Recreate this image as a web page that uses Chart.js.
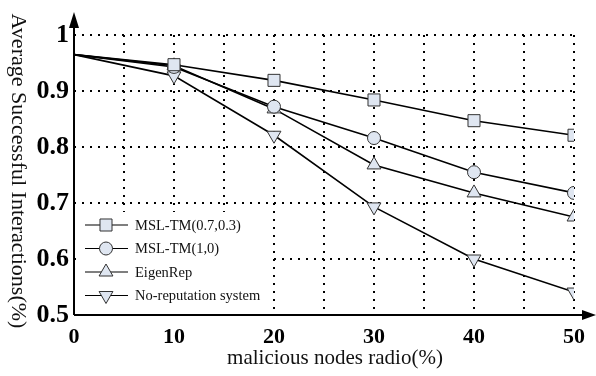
<!DOCTYPE html>
<html>
<head>
<meta charset="utf-8">
<script src="https://cdn.jsdelivr.net/npm/chart.js@4/dist/chart.umd.min.js"></script>
<style>
  html, body { margin: 0; padding: 0; background: #fff; }
  #wrap { width: 596px; height: 376px; }
  #sonda { font-family: "Liberation Serif"; position: absolute; left: -999px; }
</style>
</head>
<body>
<div id="wrap"><canvas id="grafico" width="596" height="376"></canvas></div>
<span id="sonda">0.9 <b>0.9</b></span>
<script>
const radios = [0, 10, 20, 30, 40, 50];
const mslTm073 = [0.965, 0.947, 0.919, 0.884, 0.847, 0.821];
const mslTm10 = [0.965, 0.943, 0.872, 0.816, 0.755, 0.718];
const eigenRep = [0.965, 0.945, 0.868, 0.768, 0.718, 0.675];
const semReputacao = [0.965, 0.927, 0.821, 0.693, 0.600, 0.541];
const nomes = ["MSL-TM(0.7,0.3)", "MSL-TM(1,0)", "EigenRep", "No-reputation system"];

const tituloX = "malicious nodes radio(%)";
const tituloY = "Average Successful Interactions(%)";

const preenchimento = "#dfe6f1";
const fonteSerif = "'Liberation Serif', 'Times New Roman', Times, serif";

function pontos(valores) {
    return radios.map((r, i) => ({ x: r, y: valores[i] }));
}

function serie(nome, valores, estilo, raio, rotacao) {
    return {
        label: nome,
        data: pontos(valores),
        borderColor: "#000",
        borderWidth: 1.6,
        pointStyle: estilo,
        raio: raio,
        // no ponto 0 nao tem marcador
        pointRadius: (c) => (c.dataIndex === 0 ? 0 : raio),
        pointHoverRadius: (c) => (c.dataIndex === 0 ? 0 : raio),
        pointRotation: rotacao,
        pointBackgroundColor: preenchimento,
        pointBorderColor: "#333",
        pointBorderWidth: 1,
        tension: 0,
        fill: false
    };
}

const dados = [
    serie(nomes[0], mslTm073, "rect", 8.5, 0),
    serie(nomes[1], mslTm10, "circle", 6.5, 0),
    serie(nomes[2], eigenRep, "triangle", 8, 0),
    serie(nomes[3], semReputacao, "triangle", 8, 180)
];

// desenha um marcador igual ao do grafico, para a legenda
function marcador(ctx, ds, x, y) {
    const r = ds.raio;
    ctx.save();
    ctx.fillStyle = ds.pointBackgroundColor;
    ctx.strokeStyle = ds.pointBorderColor;
    ctx.lineWidth = ds.pointBorderWidth;
    ctx.beginPath();
    if (ds.pointStyle === "rect") {
        const s = r * Math.SQRT1_2;
        ctx.rect(x - s, y - s, 2 * s, 2 * s);
    } else if (ds.pointStyle === "circle") {
        ctx.arc(x, y, r, 0, Math.PI * 2);
    } else {
        let a = ds.pointRotation * Math.PI / 180;
        ctx.moveTo(x + Math.sin(a) * r, y - Math.cos(a) * r);
        a += Math.PI * 2 / 3;
        ctx.lineTo(x + Math.sin(a) * r, y - Math.cos(a) * r);
        a += Math.PI * 2 / 3;
        ctx.lineTo(x + Math.sin(a) * r, y - Math.cos(a) * r);
        ctx.closePath();
    }
    ctx.fill();
    ctx.stroke();
    ctx.restore();
}

const extras = {
    id: "extras",
    afterDraw(chart) {
        const ctx = chart.ctx;
        const area = chart.chartArea;

        // legenda com fundo branco
        ctx.save();
        ctx.fillStyle = "#fff";
        ctx.fillRect(area.left + 3, 212, 196, 100);
        chart.data.datasets.forEach((ds, i) => {
            const y = 225 + i * 23.5;
            ctx.strokeStyle = "#000";
            ctx.lineWidth = 1.2;
            ctx.beginPath();
            ctx.moveTo(85, y);
            ctx.lineTo(128, y);
            ctx.stroke();
            marcador(ctx, ds, 106, y);
            ctx.fillStyle = "#111";
            ctx.font = "14.5px " + fonteSerif;
            ctx.textBaseline = "middle";
            ctx.textAlign = "left";
            ctx.fillText(ds.label, 135, y + 1);
        });
        ctx.restore();

        // eixos com setas
        ctx.save();
        ctx.strokeStyle = "#000";
        ctx.fillStyle = "#000";
        ctx.lineWidth = 2;
        ctx.beginPath();
        ctx.moveTo(area.left, area.bottom);
        ctx.lineTo(area.left, 24);
        ctx.moveTo(area.left, area.bottom);
        ctx.lineTo(586, area.bottom);
        ctx.stroke();
        ctx.beginPath();
        ctx.moveTo(area.left, 12);
        ctx.lineTo(area.left - 5, 28);
        ctx.lineTo(area.left + 5, 28);
        ctx.closePath();
        ctx.fill();
        ctx.beginPath();
        ctx.moveTo(596, area.bottom);
        ctx.lineTo(582, area.bottom - 5);
        ctx.lineTo(582, area.bottom + 5);
        ctx.closePath();
        ctx.fill();

        // titulos
        ctx.fillStyle = "#111";
        ctx.textAlign = "center";
        ctx.textBaseline = "middle";
        ctx.font = "21px " + fonteSerif;
        ctx.fillText(tituloX, 335, 358);
        ctx.translate(18, 171);
        ctx.rotate(Math.PI / 2);
        ctx.font = "22px " + fonteSerif;
        ctx.fillText(tituloY, 0, 0);
        ctx.restore();
    }
};

const grade = { color: "#000", lineWidth: 2, drawTicks: false };
const borda = { display: false, dash: [2, 6] };

function desenhar() {
    new Chart(document.getElementById("grafico"), {
        type: "line",
        data: { datasets: dados },
        options: {
            responsive: false,
            animation: false,
            layout: { padding: { top: 35, right: 22, left: 0, bottom: 0 } },
            plugins: {
                legend: { display: false },
                tooltip: { enabled: false }
            },
            scales: {
                x: {
                    type: "linear",
                    min: 0,
                    max: 50,
                    grid: grade,
                    border: borda,
                    ticks: {
                        stepSize: 5,
                        padding: 9,
                        color: "#000",
                        maxRotation: 0,
                        autoSkip: false,
                        font: { family: fonteSerif, size: 22, weight: "bold" },
                        callback: (v) => (v % 10 === 0 ? v : "")
                    },
                    afterFit: (scale) => { scale.height = 61; }
                },
                y: {
                    min: 0.5,
                    max: 1,
                    grid: grade,
                    border: borda,
                    ticks: {
                        stepSize: 0.1,
                        padding: 5,
                        color: "#000",
                        font: { family: fonteSerif, size: 26, weight: "bold" },
                        callback: (v) => Math.round(v * 10) / 10
                    },
                    afterFit: (scale) => { scale.width = 74; }
                }
            }
        },
        plugins: [extras]
    });
}

Promise.all([
    document.fonts.load("14px 'Liberation Serif'"),
    document.fonts.load("bold 26px 'Liberation Serif'")
]).then(desenhar, desenhar);
</script>
</body>
</html>
